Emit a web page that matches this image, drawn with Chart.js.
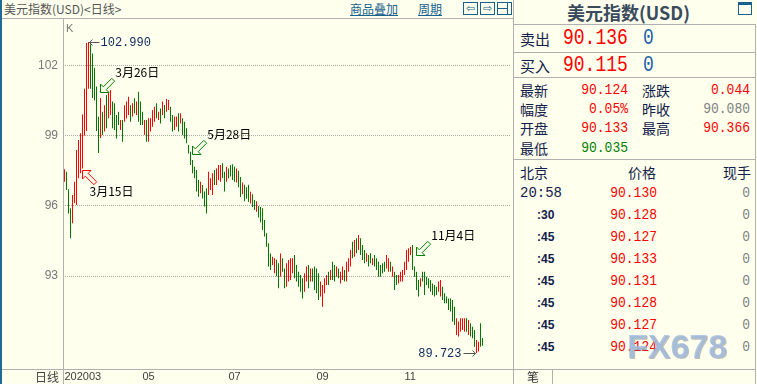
<!DOCTYPE html>
<html><head><meta charset="utf-8">
<script src="https://cdn.jsdelivr.net/npm/chart.js@4.4.0/dist/chart.umd.min.js"></script>
<style>
html,body{margin:0;padding:0}
body{width:757px;height:384px;overflow:hidden;background:#FFFFEE;position:relative;font-family:"Noto Sans CJK SC",sans-serif}
.a{position:absolute;white-space:nowrap;line-height:1}
.h{position:absolute;height:1px;background:#b0b0b0}
.v{position:absolute;width:1px;background:#b0b0b0}
.m{font-family:"Liberation Mono","DejaVu Sans Mono",monospace}
#wrap{position:absolute;left:0;top:19px;width:513px;height:365px}
.ib{position:absolute;top:2px;width:13px;height:11px;border:1px solid #17608f;color:#17608f;font-size:11px;line-height:11px;text-align:center;font-family:"DejaVu Sans",sans-serif}
</style></head><body>
<div id="wrap"><canvas id="c" width="513" height="365" style="width:513px;height:365px"></canvas></div>
<script>
// ---------------- data ----------------
const highs = [97.56,97.46,96.71,95.90,96.46,97.03,98.39,98.81,99.10,99.90,
101.00,102.95,102.99,102.90,102.50,101.90,101.10,99.80,100.60,100.02,
100.30,100.73,100.87,100.95,100.45,100.38,99.88,100.02,99.66,99.66,
100.30,100.45,100.66,100.30,100.38,100.59,100.45,100.87,100.45,100.02,
99.66,99.66,99.74,99.74,100.09,100.23,100.38,100.02,100.16,100.45,
100.31,100.56,100.52,100.23,99.88,99.81,99.81,99.95,99.95,99.74,
99.59,99.31,98.60,98.31,97.96,97.67,97.53,97.10,97.03,96.89,
96.61,96.75,97.46,97.18,97.39,97.53,97.60,97.75,97.75,97.82,
97.46,97.67,97.60,97.75,97.78,97.67,97.60,97.50,97.23,97.00,
96.90,96.80,96.90,96.60,96.50,96.25,96.20,96.00,95.95,95.90,
95.40,94.83,94.40,93.97,93.83,93.76,93.70,93.55,93.97,93.76,
93.33,93.55,93.69,93.76,93.76,93.90,93.48,93.19,93.05,92.91,
93.12,93.41,93.48,93.33,93.33,93.41,93.33,93.12,92.77,92.62,
92.91,93.05,93.19,93.26,93.62,93.48,93.41,93.33,93.19,93.41,
93.26,93.62,93.76,94.12,94.47,94.54,94.62,94.76,94.62,94.33,
94.12,93.98,93.90,93.98,93.76,93.90,93.76,93.62,93.48,93.55,
93.62,93.90,93.76,93.62,93.41,93.19,93.05,93.05,93.19,93.26,
93.62,94.12,94.19,94.26,94.33,93.41,93.19,92.84,92.91,93.19,
93.19,92.98,92.91,92.84,92.69,92.62,92.55,92.77,92.84,92.55,
92.27,92.13,92.05,92.05,91.98,91.70,91.20,91.06,91.20,91.20,
91.20,91.20,91.13,90.99,90.84,90.70,90.28,90.20,90.99,90.366];
const lows = [97.03,96.68,95.68,94.62,95.26,96.11,96.04,97.18,97.39,97.60,
99.00,99.20,101.00,101.00,100.60,100.50,99.20,98.26,98.90,99.03,
99.17,99.31,99.74,99.88,99.31,99.24,98.88,99.45,99.24,98.74,
99.59,99.73,99.88,99.59,99.81,99.95,99.88,99.59,99.45,99.45,
99.03,98.74,98.74,99.17,99.38,99.59,99.74,99.67,99.52,99.88,
99.74,100.02,100.09,99.59,99.17,99.24,99.38,99.17,99.52,99.03,
98.88,98.67,98.24,97.75,97.39,97.18,96.61,96.39,96.54,96.32,
95.97,95.68,96.46,96.68,96.46,96.89,96.89,97.10,97.03,97.18,
96.61,97.03,97.18,97.25,97.10,97.03,97.00,96.80,96.38,96.50,
96.20,96.30,96.17,96.10,95.95,95.82,95.75,95.50,95.30,94.97,
94.69,94.26,93.41,93.26,93.48,93.12,93.00,92.48,92.98,93.19,
92.48,92.55,92.77,92.84,93.12,92.91,92.77,92.55,92.34,92.05,
92.34,92.77,92.48,92.77,92.77,92.41,92.27,91.98,92.13,91.70,
92.27,92.62,92.62,92.84,92.84,92.77,92.98,92.91,92.69,92.84,
92.77,92.77,93.19,93.41,93.76,93.83,93.98,94.12,93.90,93.69,
93.55,93.62,93.41,93.55,93.48,93.41,93.26,92.98,92.98,93.12,
93.19,93.33,93.19,93.19,92.98,92.41,92.62,92.69,92.77,92.77,
93.05,93.26,93.62,93.90,93.26,92.98,92.41,92.13,92.55,92.77,
92.20,92.62,92.48,92.34,92.20,92.13,92.20,92.34,92.13,91.98,
91.84,91.84,91.56,91.49,91.06,90.92,90.49,90.42,90.63,90.70,
90.63,90.63,90.49,90.42,90.35,89.99,89.723,89.78,89.99,90.035];
// 1 = up (red), 0 = down (green)
const dirs = [1,0,0,0,1,1,1,1,1,1, 1,1,1,0,0,0,0,0,1,0,
1,0,1,1,0,0,0,0,1,0, 1,1,1,0,1,0,1,0,0,0,
1,0,1,1,1,1,0,1,0,1, 0,1,1,0,0,1,1,0,1,0,
0,0,0,0,0,0,0,0,1,0, 0,0,1,1,1,0,1,1,1,0,
0,1,0,0,0,0,1,0,0,1, 0,0,0,1,0,0,1,0,0,0,
0,0,0,0,1,1,0,0,1,0, 0,1,1,1,1,0,0,0,0,0,
1,1,0,1,0,0,0,0,1,1, 1,1,0,1,0,0,1,0,1,1,
0,1,1,1,0,1,0,1,0,0, 0,1,0,0,1,0,0,0,0,0,
0,1,1,0,1,0,0,1,1,1, 1,1,1,1,0,0,0,0,1,0,
0,0,0,0,0,0,0,1,1,0, 0,0,0,0,0,0,1,1,1,1,
1,0,1,0,0,0,1,1,0,0];
const monthTicks = [0, 39, 82, 126, 170];
const monthLabels = ['202003', '05', '07', '09', '11'];
const yTicks = [93, 96, 99, 102];
const marks = [
  {i: 9,   v: 97.53,  text: '3月15日', up: true},
  {i: 18,  v: 100.86, text: '3月26日', up: false},
  {i: 64,  v: 98.21,  text: '5月28日', up: false},
  {i: 176, v: 93.90,  text: '11月4日', up: false}
];
// quote panel
const quoteRows = [['卖出', '90.136', '0'], ['买入', '90.115', '0']];
const statLeft = [['最新', '90.124', '#ff0000'], ['幅度', '0.05%', '#ff0000'], ['开盘', '90.133', '#ff0000'], ['最低', '90.035', '#008000']];
const statRight = [['涨跌', '0.044', '#ff0000'], ['昨收', '90.080', '#808080'], ['最高', '90.366', '#ff0000']];
const tickTimes = ['20:58', ':30', ':45', ':45', ':45', ':45', ':45', ':45'];
const tickPrices = ['90.130', '90.128', '90.127', '90.133', '90.131', '90.128', '90.127', '90.124'];
const tickVols = ['0', '0', '0', '0', '0', '0', '0', '0'];

// ---------------- page furniture ----------------
function el(cls, css) { const d = document.createElement('div'); d.className = cls; d.style.cssText = css; document.body.appendChild(d); return d; }
function T(txt, x, cy, size, color, o) {
  o = o || {};
  const d = document.createElement('div');
  d.className = 'a' + (o.mono ? ' m' : '');
  d.textContent = txt;
  const s = d.style;
  s.fontSize = size + 'px'; s.color = color; s.top = cy + 'px';
  s.transform = 'translateY(-50%)' + (o.sy ? ' scaleY(' + o.sy + ')' : '');
  if (o.right) s.right = (757 - x) + 'px'; else s.left = x + 'px';
  if (o.bold) s.fontWeight = 'bold';
  if (o.family) s.fontFamily = o.family;
  if (o.css) s.cssText += o.css;
  document.body.appendChild(d);
  return d;
}
const NAVY = '#10204a';
el('', 'position:absolute;left:0;top:0;width:2px;height:384px;background:#1f6b96');
el('h', 'left:2px;top:18px;width:511px');
el('h', 'left:2px;top:369px;width:511px');
el('v', 'left:63px;top:19px;height:365px');
el('v', 'left:513px;top:0;height:384px');
T('美元指数(USD)<日线>', 4, 9, 12, '#555');
T('商品叠加', 350, 9, 12, '#17608f', {css: 'text-decoration:underline'});
T('周期', 418, 9, 12, '#17608f', {css: 'text-decoration:underline'});
const b1 = el('ib', 'left:463px'); b1.textContent = '⇦';
const b2 = el('ib', 'left:480px'); b2.textContent = '⇨';
el('ib', 'left:497px');
el('', 'position:absolute;left:507px;top:3px;width:1px;height:11px;background:#17608f');
el('', 'position:absolute;left:498px;top:8px;width:9px;height:1px;background:#17608f');
T('K', 66, 28, 11, '#777', {family: 'Liberation Sans'});
T('日线', 35, 377, 12, '#444');

// right panel
T('美元指数(USD)', 567, 12, 18, '#3a4b5c', {bold: true});
el('', 'position:absolute;left:738px;top:2px;width:12px;height:9px;border:1px solid #17608f;border-top:3px solid #17608f');
[24, 52, 77, 159, 369].forEach(y => el('h', 'left:514px;top:' + y + 'px;width:241px'));
el('v', 'left:755px;top:24px;height:360px');
quoteRows.forEach((r, k) => {
  const cy = [38, 65][k];
  T(r[0], 520, cy, 15, NAVY);
  T(r[1], 563, cy, 18, '#ff0000', {mono: true, sy: 1.2});
  T(r[2], 643, cy, 18, '#1a5fa8', {mono: true, sy: 1.2});
});
const statY = [90, 109, 128, 148];
statLeft.forEach((r, k) => { T(r[0], 520, statY[k], 14, NAVY); T(r[1], 628, statY[k], 13, r[2], {mono: true, right: true, sy: 1.15}); });
statRight.forEach((r, k) => { T(r[0], 642, statY[k], 14, NAVY); T(r[1], 750, statY[k], 13, r[2], {mono: true, right: true, sy: 1.15}); });
T('北京', 520, 172, 14, NAVY); T('价格', 628, 172, 14, NAVY); T('现手', 723, 172, 14, NAVY);
const rowY = [193, 215, 237, 259, 281, 303, 325, 347];
tickTimes.forEach((t, k) => {
  if (k === 0) T(t, 520, rowY[k], 14, NAVY, {mono: true, sy: 1.1});
  else T(t, 537, rowY[k], 12, NAVY, {family: 'Liberation Sans', bold: true});
  T(tickPrices[k], 657, rowY[k], 13, '#ff0000', {mono: true, right: true, sy: 1.15});
  T(tickVols[k], 750, rowY[k], 13, '#808080', {mono: true, right: true, sy: 1.15});
});
el('v', 'left:552px;top:369px;height:15px');
T('笔', 527, 377, 12, '#333');
T('FX678', 627, 346, 34, 'rgba(160,188,222,0.8)', {family: 'Liberation Sans', bold: true, css: 'text-shadow:1px 1px 0 rgba(110,110,120,0.45);'});

// ---------------- chart ----------------
const data = highs.map((h, i) => ({x: i, y: [lows[i], h]}));
const BG = '#FFFFEE';
function hollowArrow(ctx, tx, ty, ux, uy, color) {
  const L = 18, h = 6, hw = 6, sw = 2;
  const nx = -uy, ny = ux;
  const P = (a, b) => [tx + a * ux + b * nx, ty + a * uy + b * ny];
  const pts = [P(0, 0), P(h, hw), P(h, sw), P(L, sw), P(L, -sw), P(h, -sw), P(h, -hw)];
  ctx.beginPath();
  pts.forEach((p, k) => k ? ctx.lineTo(p[0], p[1]) : ctx.moveTo(p[0], p[1]));
  ctx.closePath();
  ctx.fillStyle = BG; ctx.fill();
  ctx.strokeStyle = color; ctx.lineWidth = 1; ctx.stroke();
  return P(L, 0);
}
const annoPlugin = {
  id: 'anno',
  afterDatasetsDraw(chart) {
    const {ctx, scales: {x, y}} = chart;
    ctx.save();
    const hi = Math.max(...highs), hiI = highs.indexOf(hi);
    let px = x.getPixelForValue(hiI), py = Math.round(y.getPixelForValue(hi)) + 0.5;
    ctx.strokeStyle = '#555'; ctx.lineWidth = 1;
    ctx.beginPath(); ctx.moveTo(px + 1, py); ctx.lineTo(px + 11, py); ctx.stroke();
    ctx.beginPath(); ctx.moveTo(px + 4, py - 3); ctx.lineTo(px + 1, py); ctx.lineTo(px + 4, py + 3); ctx.stroke();
    ctx.fillStyle = '#0c2a5c'; ctx.font = '12px "Liberation Mono"'; ctx.textBaseline = 'middle'; ctx.textAlign = 'left';
    ctx.fillText(hi.toFixed(3), px + 12, py);
    const lo = Math.min(...lows), loI = lows.indexOf(lo);
    px = x.getPixelForValue(loI); py = Math.round(y.getPixelForValue(lo)) + 0.5;
    ctx.beginPath(); ctx.moveTo(px - 1, py); ctx.lineTo(px - 13, py); ctx.stroke();
    ctx.beginPath(); ctx.moveTo(px - 4, py - 3); ctx.lineTo(px - 1, py); ctx.lineTo(px - 4, py + 3); ctx.stroke();
    ctx.textAlign = 'right';
    ctx.fillText(lo.toFixed(3), px - 15, py);
    ctx.font = '12px "Noto Sans CJK SC"'; ctx.textAlign = 'left';
    marks.forEach(m => {
      const tx = Math.round(x.getPixelForValue(m.i)) - 0.5, ty = Math.round(y.getPixelForValue(m.v)) + 0.5;
      const s = Math.SQRT1_2;
      if (m.up) {
        const tail = hollowArrow(ctx, tx, ty, s, s, '#ff0000');
        ctx.fillStyle = '#000'; ctx.fillText(m.text, tx + 7, tail[1] + 8);
      } else {
        const tail = hollowArrow(ctx, tx, ty, s, -s, '#008000');
        ctx.fillStyle = '#000'; ctx.fillText(m.text, tail[0] + 2, tail[1] - 7);
      }
    });
    ctx.restore();
  }
};
new Chart(document.getElementById('c'), {
  type: 'bar',
  data: {datasets: [{
    data,
    backgroundColor: dirs.map(d => d ? '#FF0000' : '#007800'),
    barThickness: 1, borderWidth: 0, inflateAmount: 0
  }]},
  options: {
    responsive: false, animation: false, devicePixelRatio: 1,
    layout: {padding: {left: 0, right: 2, top: 0, bottom: 0}},
    plugins: {legend: {display: false}, tooltip: {enabled: false}},
    scales: {
      x: {
        type: 'linear', min: -0.75, max: 223.25, offset: false, bounds: 'data',
        grid: {display: false, drawTicks: false},
        border: {display: false},
        ticks: {
          align: 'start', padding: 1, maxRotation: 0, autoSkip: false, color: '#404040',
          font: {family: 'Liberation Sans', size: 11},
          callback: v => { const k = monthTicks.indexOf(v); return k >= 0 ? monthLabels[k] : ''; }
        },
        afterBuildTicks: s => { s.ticks = monthTicks.map(v => ({value: v})); },
        afterFit: s => { s.height = 15; s.paddingLeft = 0; s.paddingRight = 0; }
      },
      y: {
        min: 89.038, max: 103.976, bounds: 'data',
        grid: {color: '#a8a8a0', lineWidth: 1, drawTicks: false},
        border: {display: false, dash: [1, 1]},
        ticks: {padding: 5, color: '#777', font: {family: 'Liberation Sans', size: 12}},
        afterBuildTicks: s => { s.ticks = yTicks.map(v => ({value: v})); },
        afterFit: s => { s.width = 63; s.paddingTop = 0; s.paddingBottom = 0; }
      }
    }
  },
  plugins: [annoPlugin]
});
</script>
</body></html>
